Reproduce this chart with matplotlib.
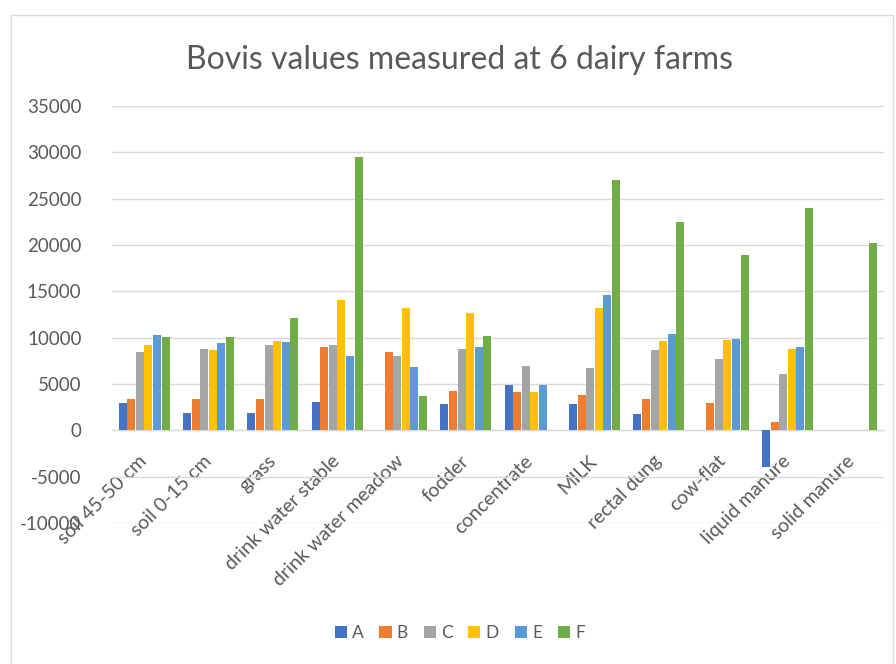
import numpy as np
import matplotlib
matplotlib.use('Agg')
import matplotlib.pyplot as plt
from matplotlib.patches import Rectangle

plt.rcParams['font.family'] = ['Lato', 'DejaVu Sans']
plt.rcParams['axes.unicode_minus'] = False

samples = ['soil 45-50 cm', 'soil 0-15 cm', 'grass', 'drink water stable',
           'drink water meadow', 'fodder', 'concentrate', 'MILK', 'rectal dung',
           'cow-flat', 'liquid manure', 'solid manure']

# one list per farm, nan where nothing was measured
farm_a = [2900, 1900, 1900, 3100, np.nan, 2800, 4900, 2800, 1800, np.nan, -4000, np.nan]
farm_b = [3400, 3400, 3400, 9000, 8400, 4250, 4100, 3800, 3400, 2900, 900, np.nan]
farm_c = [8400, 8750, 9200, 9200, 8000, 8750, 6900, 6750, 8650, 7750, 6050, np.nan]
farm_d = [9200, 8650, 9650, 14050, 13250, 12650, 4100, 13250, 9600, 9800, 8750, np.nan]
farm_e = [10250, 9400, 9550, 8000, 6850, 9000, 4850, 14600, 10350, 9900, 9000, np.nan]
farm_f = [10050, 10050, 12150, 29500, 3700, 10200, np.nan, 27000, 22450, 18900, 23950, 20250]

farms = ['A', 'B', 'C', 'D', 'E', 'F']
series = [farm_a, farm_b, farm_c, farm_d, farm_e, farm_f]
colors = ['#4472C4', '#ED7D31', '#A5A5A5', '#FFC000', '#5B9BD5', '#70AD47']

fig = plt.figure(figsize=(8.96, 6.64), dpi=100)
ax = fig.add_axes([112 / 896, 1 - 523 / 664, 772 / 896, 417 / 664])

# chart area frame
fig.patches.append(Rectangle((11 / 896, -0.01), 882 / 896, 1 - 15 / 664 + 0.01,
                             transform=fig.transFigure, fill=False,
                             edgecolor='#d9d9d9', linewidth=1))

x = np.arange(len(samples))
pitch = 0.133
width = 0.125
for i, (name, vals, c) in enumerate(zip(farms, series, colors)):
    ax.bar(x + (i - 2.5) * pitch, vals, width=width, color=c, label=name, zorder=3)

ax.set_xlim(-0.5, len(samples) - 0.5)
ax.set_ylim(-10000, 35000)
ax.set_yticks(np.arange(-10000, 35001, 5000))
ax.grid(axis='y', color='#d9d9d9', linewidth=1, zorder=0)
ax.set_axisbelow(True)

for side in ['left', 'right', 'top']:
    ax.spines[side].set_visible(False)
ax.spines['bottom'].set_position(('data', 0))
ax.spines['bottom'].set_color('#d9d9d9')
ax.spines['bottom'].set_zorder(2)

ax.tick_params(axis='y', length=0, pad=22, labelsize=13.5, labelcolor='#595959')
ax.tick_params(axis='x', length=0, pad=20, labelsize=14, labelcolor='#595959')
ax.set_xticks(x)
ax.set_xticklabels(samples, rotation=45, ha='right', va='center', rotation_mode='anchor')
for lab in ax.get_xticklabels():
    lab.set_zorder(5)

fig.text(0.513, 1 - 60 / 664, 'Bovis values measured at 6 dairy farms',
         ha='center', va='center', fontsize=23, color='#595959')

fig.legend(loc='center', bbox_to_anchor=(0.513, 1 - 633 / 664), ncol=6,
           frameon=False, fontsize=12.5, labelcolor='#595959',
           handlelength=0.7, handleheight=0.7, handletextpad=0.3,
           columnspacing=0.9)

fig.savefig('out.png', dpi=100, facecolor='white')
